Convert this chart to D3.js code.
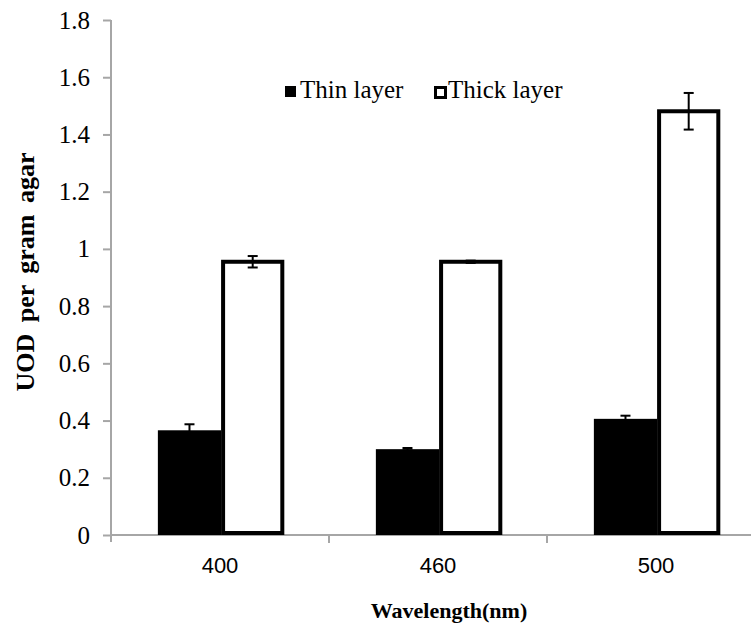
<!DOCTYPE html>
<html lang="en">
  <head>
    <meta charset="utf-8">
    <title>UOD per gram agar</title>
    <script src="https://d3js.org/d3.v7.min.js"></script>
    <style>
      body { margin: 0; background: #fff; }
    </style>
  </head>
  <body>
    <svg id="chart" width="751" height="636"></svg>
    <script type="text/javascript">
      var categories = ["400", "460", "500"];
      var seriesNames = ["Thin layer", "Thick layer"];
      var thinValues = [0.366, 0.300, 0.406];
      var thinErrors = [0.021, 0.004, 0.011];
      var thickValues = [0.955, 0.955, 1.481];
      var thickErrors = [0.020, 0.004, 0.064];
      var yTicks = [0, 0.2, 0.4, 0.6, 0.8, 1, 1.2, 1.4, 1.6, 1.8];

      var rows = [];
      categories.forEach(function (c, i) {
        rows.push({cat: c, series: "Thin layer", value: thinValues[i], err: thinErrors[i]});
        rows.push({cat: c, series: "Thick layer", value: thickValues[i], err: thickErrors[i]});
      });

      var svg = d3.select("svg#chart");
      var plotLeft = 111, plotRight = 765, plotTop = 20, plotBottom = 535;
      var axisColor = "#a6a6a6";

      var yScale = d3.scaleLinear().domain([0, 1.8]).range([plotBottom, plotTop]);
      var x0 = d3.scaleBand().domain(categories).range([plotLeft, plotRight]);
      var bw = x0.bandwidth();
      var x1 = d3.scaleBand().domain(seriesNames).range([bw * 0.215, bw * 0.795]);

      // y axis
      var yAxis = d3.axisLeft(yScale).tickValues(yTicks).tickSize(8).tickPadding(13)
        .tickFormat(function (d) { return String(+d.toFixed(1)); });
      var gy = svg.append("g").attr("transform", "translate(" + plotLeft + ",0)").call(yAxis);
      gy.select(".domain").remove();
      gy.selectAll("line").attr("stroke", axisColor).attr("stroke-width", 2);
      gy.selectAll("text").style("font", "25px 'Liberation Serif', serif").attr("fill", "#000");
      svg.append("line").attr("x1", plotLeft).attr("x2", plotLeft).attr("y1", plotTop).attr("y2", plotBottom + 7)
        .attr("stroke", axisColor).attr("stroke-width", 2);

      // x axis
      svg.append("line").attr("x1", plotLeft).attr("x2", 751).attr("y1", plotBottom).attr("y2", plotBottom)
        .attr("stroke", axisColor).attr("stroke-width", 2);
      svg.append("g").selectAll("line.sep").data(categories.slice(1)).enter().append("line")
        .attr("x1", d => x0(d)).attr("x2", d => x0(d))
        .attr("y1", plotBottom).attr("y2", plotBottom + 8)
        .attr("stroke", axisColor).attr("stroke-width", 2);
      svg.append("g").selectAll("text.cat").data(categories).enter().append("text")
        .attr("x", d => x0(d) + bw / 2).attr("y", 573)
        .attr("text-anchor", "middle")
        .style("font", "22px 'Liberation Sans', Arial, sans-serif")
        .text(d => d);

      // bars
      var g = svg.append("g");
      g.selectAll("rect.bar").data(rows).enter().append("rect")
        .attr("x", d => x0(d.cat) + x1(d.series) + (d.series === "Thick layer" ? 2 : 0))
        .attr("y", d => yScale(d.value))
        .attr("width", d => x1.bandwidth() - (d.series === "Thick layer" ? 4 : 0))
        .attr("height", d => plotBottom - yScale(d.value) - (d.series === "Thick layer" ? 2 : 0))
        .attr("fill", d => d.series === "Thick layer" ? "#fff" : "#000")
        .attr("stroke", d => d.series === "Thick layer" ? "#000" : "none")
        .attr("stroke-width", 4);

      // error bars
      var eb = g.selectAll("g.err").data(rows).enter().append("g")
        .attr("transform", d => "translate(" + (x0(d.cat) + x1(d.series) + x1.bandwidth() / 2) + ",0)");
      eb.append("line").attr("y1", d => yScale(d.value + d.err)).attr("y2", d => yScale(d.value - d.err))
        .attr("stroke", "#000").attr("stroke-width", 2);
      eb.append("line").attr("x1", -5).attr("x2", 5)
        .attr("y1", d => yScale(d.value + d.err)).attr("y2", d => yScale(d.value + d.err))
        .attr("stroke", "#000").attr("stroke-width", 2);
      eb.append("line").attr("x1", -5).attr("x2", 5)
        .attr("y1", d => yScale(d.value - d.err)).attr("y2", d => yScale(d.value - d.err))
        .attr("stroke", "#000").attr("stroke-width", 2);

      // legend
      var legend = svg.append("g");
      var legendX = [285, 434];
      seriesNames.forEach(function (s, i) {
        var lg = legend.append("g").attr("transform", "translate(" + legendX[i] + ",86)");
        if (i === 0) {
          lg.append("rect").attr("width", 11).attr("height", 11).attr("fill", "#000");
        } else {
          lg.append("rect").attr("x", 1.5).attr("y", 1.5).attr("width", 10).attr("height", 10)
            .attr("fill", "#fff").attr("stroke", "#000").attr("stroke-width", 3);
        }
        lg.append("text").attr("x", i === 0 ? 15 : 14).attr("y", 12)
          .style("font", "25px 'Liberation Serif', serif").text(s);
      });

      // axis titles
      svg.append("text").attr("transform", "translate(34,272) rotate(-90)")
        .attr("text-anchor", "middle")
        .style("font", "bold 26px 'Liberation Serif', serif")
        .style("word-spacing", "5px")
        .text("UOD per gram agar");
      svg.append("text").attr("x", 449).attr("y", 618).attr("text-anchor", "middle")
        .style("font", "bold 22px 'Liberation Serif', serif")
        .text("Wavelength(nm)");
    </script>
  </body>
</html>
